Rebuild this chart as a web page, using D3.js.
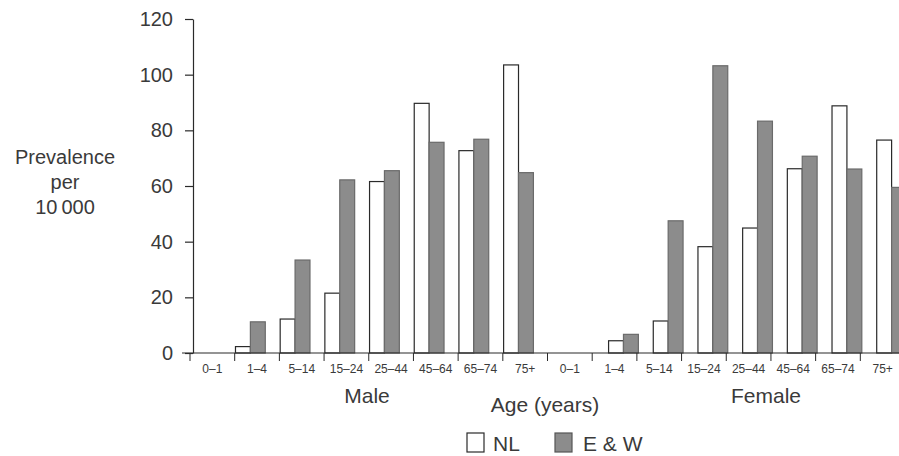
<!DOCTYPE html>
<html>
<head>
<meta charset="utf-8">
<script src="https://cdn.jsdelivr.net/npm/d3@7"></script>
<style>
  html, body { margin: 0; padding: 0; background: #fff; }
  svg { display: block; }
  text { font-family: "Liberation Sans", Arial, Helvetica, sans-serif; fill: #3a3a3a; }
</style>
</head>
<body>
<svg id="chart" width="899" height="456"></svg>
<script>
// ---- data ----
const ageGroups = ["0\u20131", "1\u20134", "5\u201314", "15\u201324", "25\u201344", "45\u201364", "65\u201374", "75+"];
const sexes = ["Male", "Female"];
const seriesNames = ["NL", "E & W"];
const nlMale   = [0, 2.3, 12.2, 21.5, 61.6, 89.7, 72.7, 103.5];
const ewMale   = [0, 11.2, 33.4, 62.2, 65.5, 75.7, 76.8, 64.8];
const nlFemale = [0, 4.4, 11.5, 38.2, 44.9, 66.2, 88.8, 76.5];
const ewFemale = [0, 6.7, 47.5, 103.2, 83.3, 70.7, 66.1, 59.5];
const yTicks = [0, 20, 40, 60, 80, 100, 120];
const yLabelLines = ["Prevalence", "per", "10\u2009000"];
const xTitle = "Age (years)";

// ---- layout ----
const svg = d3.select("#chart");
const x0 = 190, x1 = 905, yBase = 353, yTop = 19;
const textCol = "#3a3a3a", lineCol = "#2a2a2a", grey = "#8c8c8c";

const cats = [];
sexes.forEach(s => ageGroups.forEach(a => cats.push(s + "|" + a)));
const x = d3.scaleBand().domain(cats).range([x0, x1]).padding(0);
const y = d3.scaleLinear().domain([0, 120]).range([yBase, yTop]);
const bw = x.bandwidth();
const sub = bw / 3;

const rows = [];
ageGroups.forEach((a, i) => {
  rows.push({sex: "Male", age: a, series: "NL", v: nlMale[i]});
  rows.push({sex: "Male", age: a, series: "E & W", v: ewMale[i]});
  rows.push({sex: "Female", age: a, series: "NL", v: nlFemale[i]});
  rows.push({sex: "Female", age: a, series: "E & W", v: ewFemale[i]});
});

function barX(d) {
  const start = x(d.sex + "|" + d.age);
  const idx = seriesNames.indexOf(d.series);
  const offset = d.sex === "Male" ? 0.8 : sub + 1.5;
  return start + offset + idx * sub;
}

// bars
svg.append("g").selectAll("rect").data(rows).join("rect")
  .attr("x", d => barX(d))
  .attr("y", d => y(d.v))
  .attr("width", sub)
  .attr("height", d => yBase - y(d.v))
  .attr("fill", d => d.series === "NL" ? "#fff" : grey)
  .attr("stroke", d => d.series === "NL" ? lineCol : "#6a6a6a")
  .attr("stroke-width", 1.2);

// x axis baseline
svg.append("line")
  .attr("x1", 182).attr("x2", 899)
  .attr("y1", yBase).attr("y2", yBase)
  .attr("stroke", lineCol).attr("stroke-width", 1.2);

// x category boundary ticks
svg.append("g").selectAll("line").data(cats).join("line")
  .attr("x1", d => x(d)).attr("x2", d => x(d))
  .attr("y1", yBase).attr("y2", yBase + 8)
  .attr("stroke", lineCol).attr("stroke-width", 1);

// x tick labels
const xAxis = d3.axisBottom(x).tickSize(0).tickFormat(d => d.split("|")[1]);
const gx = svg.append("g").attr("transform", `translate(0,${yBase})`).call(xAxis);
gx.select(".domain").remove();
gx.selectAll("text")
  .attr("y", 11).attr("dy", "0.71em")
  .style("font-size", "12px")
  .style("font-family", '"Liberation Sans", Arial, sans-serif')
  .attr("fill", textCol);

// y axis
const yAxis = d3.axisLeft(y).tickValues(yTicks).tickSize(8).tickSizeOuter(0).tickPadding(12);
const gy = svg.append("g").attr("transform", `translate(193,0)`).call(yAxis);
gy.select(".domain").attr("stroke", lineCol).attr("stroke-width", 1.2);
gy.selectAll(".tick line").attr("stroke", lineCol).attr("stroke-width", 1.2);
gy.selectAll("text")
  .style("font-size", "20px")
  .style("font-family", '"Liberation Sans", Arial, sans-serif')
  .attr("fill", textCol);

// y title
svg.append("g").selectAll("text").data(yLabelLines).join("text")
  .attr("x", 65).attr("y", (d, i) => 164 + i * 25)
  .attr("text-anchor", "middle")
  .style("font-size", "20px")
  .text(d => d);

// group labels
sexes.forEach(s => {
  const first = x(s + "|" + ageGroups[0]);
  const last = x(s + "|" + ageGroups[ageGroups.length - 1]) + bw;
  const cx = s === "Male" ? 367 : 766;
  svg.append("text")
    .attr("x", cx).attr("y", 403)
    .attr("text-anchor", "middle")
    .style("font-size", "21px")
    .text(s);
});

// x title
svg.append("text")
  .attr("x", 545).attr("y", 412)
  .attr("text-anchor", "middle")
  .style("font-size", "21px")
  .text(xTitle);

// legend
const legend = [
  {name: "NL", bx: 467, tx: 493, fill: "#fff", stroke: lineCol},
  {name: "E & W", bx: 555, tx: 583, fill: grey, stroke: "#555"}
];
const lg = svg.append("g");
lg.selectAll("rect").data(legend).join("rect")
  .attr("x", d => d.bx).attr("y", 433)
  .attr("width", 17).attr("height", 19)
  .attr("fill", d => d.fill).attr("stroke", d => d.stroke).attr("stroke-width", 1.2);
lg.selectAll("text").data(legend).join("text")
  .attr("x", d => d.tx).attr("y", 451)
  .style("font-size", "21px")
  .text(d => d.name);
</script>
</body>
</html>
